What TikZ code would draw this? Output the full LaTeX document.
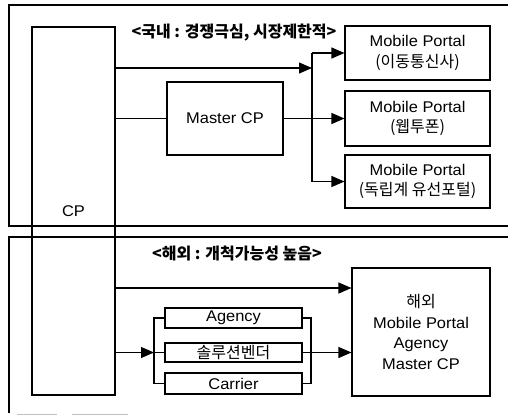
\documentclass[tikz,border=0pt]{standalone}
\usepackage{fontspec}
\setmainfont{Liberation Sans}[FakeStretch=1.06]
\newfontfamily\kr{Noto Sans CJK KR}
\newcommand\krtext[1]{{\kr\fontsize{16}{21}\selectfont #1}}
\usetikzlibrary{arrows.meta}
\begin{document}
\begin{tikzpicture}[x=1pt,y=-1pt,
  line width=1.1pt,
  box/.style={draw, line width=1.1pt, inner sep=0pt, align=center,
    font=\fontsize{15.5}{20.5}\selectfont},
  title/.style={font=\kr\bfseries\fontsize{16}{18}\selectfont},
  arr/.style={-{Triangle[length=13pt,width=11pt]}}]
\useasboundingbox (0,0) rectangle (508,416);

% two region frames, open on the right
\draw (508,5) -- (9,5) -- (9,226) -- (508,226);
\draw (508,237) -- (9,237) -- (9,413);
\draw[black!25, line width=0.8pt] (17,414) -- (57,414) (72,414) -- (128,414);

% content provider
\node[box, minimum width=83pt, minimum height=368pt] (cp) at (73.5,211) {CP};

% domestic market
\node[title] (domt) at (234,33) {<국내 : 경쟁극심, 시장제한적>};
\node[box, minimum width=116pt, minimum height=73pt] (mcp) at (225,118.5) {Master CP};
\node[box, minimum width=145pt, minimum height=54pt] (mp1) at (417.5,53)
  {Mobile Portal\\\krtext{(이동통신사)}};
\node[box, minimum width=145pt, minimum height=55pt] (mp2) at (417.5,118.5)
  {Mobile Portal\\\krtext{(웹투폰)}};
\node[box, minimum width=145pt, minimum height=53pt] (mp3) at (417.5,181.5)
  {Mobile Portal\\\krtext{(독립계 유선포털)}};

\coordinate (ja) at (312,68);
\draw[arr] (cp.east |- ja) -- (ja);
\draw (mp1.west -| ja) -- (mp3.west -| ja);
\draw[arr] (mp1.west -| ja) -- (mp1.west);
\draw[arr] (mp3.west -| ja) -- (mp3.west);
\draw (cp.east |- mcp.west) -- (mcp.west);
\draw[arr] (mcp.east) -- (mp2.west);

% overseas market
\node[title] (ovt) at (237,253) {<해외 : 개척가능성 높음>};
\node[box, minimum width=138pt, minimum height=128pt] (big) at (421,332)
  {\krtext{해외}\\Mobile Portal\\Agency\\Master CP};
\node[box, minimum width=137pt, minimum height=20pt] (ag) at (233.5,318) {Agency};
\node[box, minimum width=137pt, minimum height=19pt] (sv) at (233.5,352.5)
  {\krtext{솔루션벤더}};
\node[box, minimum width=137pt, minimum height=21pt] (ca) at (233.5,383.5) {Carrier};

\coordinate (jb) at (352,288);
\draw[arr] (cp.east |- jb) -- (big.west |- jb);

\coordinate (bl) at (154,0);
\coordinate (br) at (311,0);
\draw (ag.west) -- (ag.west -| bl) -- (ca.west -| bl) -- (ca.west);
\draw (bl |- sv.west) -- (sv.west);
\draw[arr] (cp.east |- sv.west) -- (bl |- sv.west);
\draw (ag.east) -- (ag.east -| br) -- (ca.east -| br) -- (ca.east);
\draw[arr] (sv.east) -- (big.west |- sv.east);
\end{tikzpicture}
\end{document}
